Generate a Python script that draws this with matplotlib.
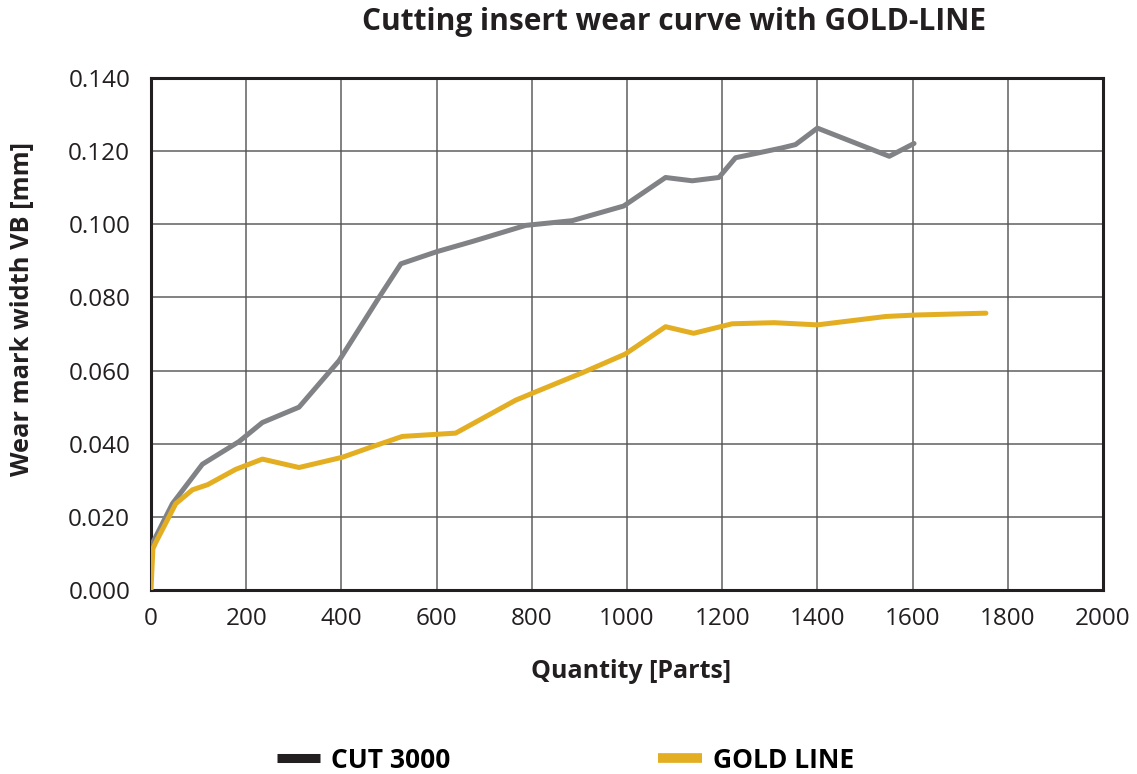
import numpy as np
import matplotlib
matplotlib.use('Agg')
from matplotlib import pyplot as plt
from matplotlib.lines import Line2D

plt.rcParams['font.family'] = ['Open Sans', 'DejaVu Sans']

# wear curve readings
cut_x = [0, 45, 108, 185, 234, 311, 395, 479, 525, 600, 675, 787, 885, 993,
         1081, 1137, 1193, 1228, 1326, 1354, 1400, 1551, 1603]
cut_y = [0.012, 0.0236, 0.0344, 0.0406, 0.0458, 0.0500, 0.0627, 0.0800, 0.0892, 0.0925, 0.0953, 0.0997, 0.1010, 0.1050,
         0.1128, 0.1119, 0.1128, 0.1182, 0.1209, 0.1218, 0.1263, 0.1186, 0.1221]

gold_x = [0, 4, 10, 52, 87, 119, 178, 234, 311, 402, 465, 528, 640, 766, 801, 906, 996,
          1081, 1140, 1221, 1309, 1400, 1544, 1607, 1754]
gold_y = [0.000, 0.0113, 0.013, 0.0236, 0.0274, 0.0288, 0.0330, 0.0358, 0.0335, 0.0363, 0.0392, 0.0420, 0.0429, 0.0519, 0.0538, 0.0594, 0.0645,
          0.0720, 0.0702, 0.0728, 0.0731, 0.0725, 0.0748, 0.0752, 0.0757]

xticks = [0, 200, 400, 600, 800, 1000, 1200, 1400, 1600, 1800, 2000]
yticks = [0.000, 0.020, 0.040, 0.060, 0.080, 0.100, 0.120, 0.140]

gray = '#808285'
gold = '#E3AE22'

fig = plt.figure(figsize=(11.37, 7.74), dpi=100)
ax = fig.add_axes([0.1328, 0.2377, 0.8373, 0.6615])

ax.plot(cut_x, cut_y, color=gray, lw=3.6, solid_joinstyle='round', solid_capstyle='round', zorder=3)
ax.plot(gold_x, gold_y, color=gold, lw=3.6, solid_joinstyle='round', solid_capstyle='round', zorder=4)

ax.set_xlim(0, 2000)
ax.set_ylim(0, 0.14)
ax.set_xticks(xticks)
ax.set_yticks(yticks)
ax.set_yticklabels(['%.3f' % v for v in yticks])
ax.tick_params(length=0, labelsize=17.5, colors='#231f20')
ax.tick_params(axis='y', pad=15)
ax.tick_params(axis='x', pad=12)
ax.grid(True, color='#555555', lw=1.3, alpha=0.8)
ax.set_axisbelow(True)
for s in ax.spines.values():
    s.set_linewidth(2.2)
    s.set_color('#231f20')

fig.text(0.593, 0.971, 'Cutting insert wear curve with GOLD-LINE', ha='center', va='center',
         fontsize=21.5, fontweight='bold', color='#231f20')
fig.text(0.02, 0.601, 'Wear mark width VB [mm]', rotation=90, ha='center', va='center',
         fontsize=18.3, fontweight='bold', color='#231f20')
fig.text(0.555, 0.132, 'Quantity [Parts]', ha='center', va='center',
         fontsize=18, fontweight='bold', color='#231f20')

handles = [Line2D([0], [0], color='#231f20', lw=6.5, solid_capstyle='butt'),
           Line2D([0], [0], color=gold, lw=7, solid_capstyle='butt')]
fig.legend(handles, ['CUT 3000', 'GOLD LINE'], loc='center', bbox_to_anchor=(0.497, 0.018),
           ncol=2, frameon=False, handlelength=1.65, handletextpad=0.4, columnspacing=7.9,
           prop={'weight': 'bold', 'size': 19})

fig.savefig('out.png', dpi=100)
